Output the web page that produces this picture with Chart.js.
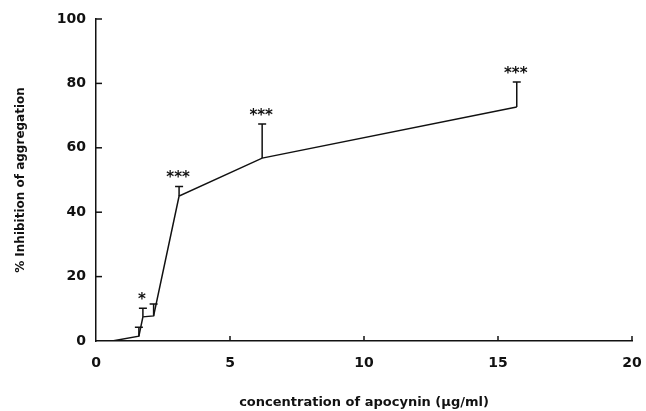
<!DOCTYPE html>
<html>
<head>
<meta charset="utf-8">
<script src="https://cdn.jsdelivr.net/npm/chart.js@4.4.1/dist/chart.umd.min.js"></script>
<style>
  html, body { margin: 0; padding: 0; background: #fff; }
  #wrap { width: 646px; height: 411px; position: relative; }
</style>
</head>
<body>
<div id="wrap"><canvas id="c" width="646" height="411"></canvas></div>
<script>
// Concentration of apocynin (µg/ml)
const concentration = [0.6, 1.6, 1.75, 2.15, 3.1, 6.2, 15.7];
// % inhibition of aggregation (mean)
const inhibition = [0, 1.5, 7.5, 7.8, 45, 56.8, 72.7];
// upper error (SEM)
const errorUp = [0, 2.8, 2.7, 3.7, 3, 10.6, 7.7];
// significance marks
const significance = ['', '', '*', '', '***', '***', '***'];
// axis ticks
const xTicks = [0, 5, 10, 15, 20];
const yTicks = [0, 20, 40, 60, 80, 100];

const FONT = '"DejaVu Sans", "Liberation Sans", Arial, sans-serif';

const points = concentration.map((x, i) => ({ x: x, y: inhibition[i] }));

const extrasPlugin = {
  id: 'extras',
  afterDatasetsDraw(chart) {
    const ctx = chart.ctx;
    const xs = chart.scales.x, ys = chart.scales.y;
    ctx.save();
    ctx.strokeStyle = '#111';
    ctx.fillStyle = '#111';
    ctx.lineWidth = 1.5;
    // inward ticks
    yTicks.forEach(v => {
      if (v === 0) return;
      const py = ys.getPixelForValue(v);
      ctx.beginPath();
      ctx.moveTo(xs.left, py);
      ctx.lineTo(xs.left + 6, py);
      ctx.stroke();
    });
    xTicks.forEach(v => {
      if (v === 0) return;
      const px = xs.getPixelForValue(v);
      ctx.beginPath();
      ctx.moveTo(px, ys.bottom);
      ctx.lineTo(px, ys.bottom - 5);
      ctx.stroke();
    });
    // error bars (upper only)
    concentration.forEach((x, i) => {
      if (!errorUp[i]) return;
      const px = xs.getPixelForValue(x);
      const py = ys.getPixelForValue(inhibition[i]);
      const pt = ys.getPixelForValue(inhibition[i] + errorUp[i]);
      ctx.beginPath();
      ctx.moveTo(px, py);
      ctx.lineTo(px, pt);
      ctx.moveTo(px - 4, pt);
      ctx.lineTo(px + 4, pt);
      ctx.stroke();
    });
    // significance asterisks
    ctx.font = 'bold 15px ' + FONT;
    ctx.textAlign = 'center';
    ctx.textBaseline = 'alphabetic';
    concentration.forEach((x, i) => {
      if (!significance[i]) return;
      const px = xs.getPixelForValue(x);
      const pt = ys.getPixelForValue(inhibition[i] + errorUp[i]);
      ctx.fillText(significance[i], px - 1, pt - 4);
    });
    ctx.restore();
  }
};

new Chart(document.getElementById('c'), {
  type: 'scatter',
  data: {
    datasets: [{
      data: points,
      showLine: true,
      borderColor: '#111',
      borderWidth: 1.5,
      pointRadius: 0,
      pointHoverRadius: 0,
      tension: 0,
      fill: false
    }]
  },
  options: {
    responsive: false,
    animation: false,
    devicePixelRatio: 1,
    layout: { padding: { left: 0, right: 14, top: 19, bottom: 0 } },
    plugins: { legend: { display: false }, tooltip: { enabled: false } },
    scales: {
      x: {
        type: 'linear',
        min: 0, max: 20,
        afterBuildTicks: s => { s.ticks = xTicks.map(v => ({ value: v })); },
        afterFit: s => { s.height = 70; s.paddingLeft = 0; s.paddingRight = 0; },
        grid: { display: false, drawTicks: false },
        border: { display: true, color: '#111', width: 1.5 },
        ticks: { color: '#111', font: { family: FONT, size: 14, weight: 'bold' }, padding: 14, maxRotation: 0 },
        title: { display: true, text: 'concentration of apocynin (µg/ml)', color: '#111',
                 font: { family: FONT, size: 13, weight: 'bold' }, padding: { top: 0, bottom: 1 } }
      },
      y: {
        type: 'linear',
        min: 0, max: 100,
        afterBuildTicks: s => { s.ticks = yTicks.map(v => ({ value: v })); },
        afterFit: s => { s.width = 96; s.paddingTop = 0; s.paddingBottom = 0; },
        grid: { display: false, drawTicks: false },
        border: { display: true, color: '#111', width: 1.5 },
        ticks: { color: '#111', font: { family: FONT, size: 14, weight: 'bold' }, padding: 10 },
        title: { display: true, text: '% Inhibition of aggregation', color: '#111',
                 font: { family: FONT, size: 12, weight: 'bold' }, padding: { top: 14, bottom: 4 } }
      }
    }
  },
  plugins: [extrasPlugin]
});
</script>
</body>
</html>
